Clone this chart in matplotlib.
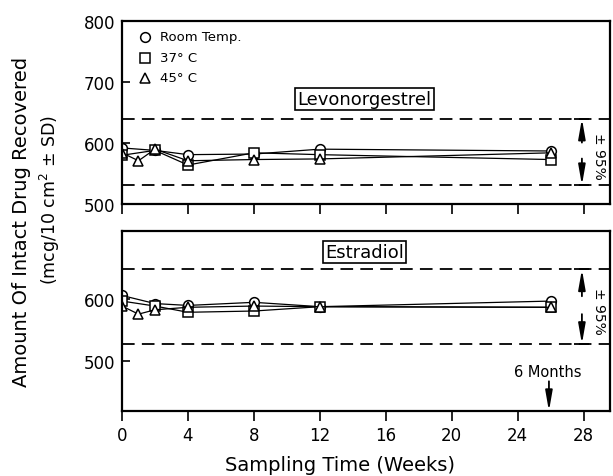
import matplotlib
matplotlib.use("Agg")
import matplotlib.pyplot as plt

plt.rcParams['font.family'] = ['DejaVu Sans']

weeks = [0, 2, 4, 8, 12, 26]
weeks45 = [0, 1, 2, 4, 8, 12, 26]

levo_rt = [592, 588, 581, 582, 590, 587]
levo_37 = [580, 588, 564, 584, 581, 573]
levo_45 = [584, 571, 590, 571, 573, 574, 584]
levo_band = [640, 531]

estr_rt = [606, 593, 590, 595, 588, 597]
estr_37 = [597, 589, 579, 581, 588, 587]
estr_45 = [589, 576, 583, 587, 589, 588, 587]
estr_band = [648, 528]

xticks = [0, 4, 8, 12, 16, 20, 24, 28]

fig = plt.figure(figsize=(6.13, 4.77), dpi=100)
ax1 = fig.add_axes([0.199, 0.570, 0.796, 0.384])
ax2 = fig.add_axes([0.199, 0.136, 0.796, 0.378])

mk = dict(color='black', lw=0.9, markerfacecolor='white', markeredgecolor='black',
          markersize=7, markeredgewidth=1.1)
arrow = dict(arrowstyle='-|>,head_length=0.8,head_width=0.14', color='black', lw=1.3,
             mutation_scale=15, shrinkA=0, shrinkB=0)

def panel(ax, rt, c37, c45, band, ylim, yticks, label, lab_y):
    ax.plot(weeks, rt, marker='o', **mk)
    ax.plot(weeks, c37, marker='s', **mk)
    ax.plot(weeks45, c45, marker='^', **mk)
    for b in band:
        ax.axhline(b, color='black', lw=1.3, ls=(0, (7, 4)))
        ax.plot([27.45, 28.35], [b, b], color='black', lw=1.3, solid_capstyle='butt')
    ax.set_xlim(0, 29.6)
    ax.set_ylim(*ylim)
    ax.set_xticks(xticks)
    ax.set_yticks(yticks)
    ax.tick_params(axis='y', direction='in', length=6, width=1.2, labelsize=12, pad=5)
    ax.tick_params(axis='x', direction='out', length=7, width=1.2, labelsize=12)
    for s in ax.spines.values():
        s.set_linewidth(1.6)
    ax.text(14.7, lab_y, label, ha='center', va='center', fontsize=13,
            bbox=dict(boxstyle='square,pad=0.12', fc='white', ec='black', lw=1.2))
    mid = (band[0] + band[1]) / 2
    span = band[0] - band[1]
    ax.annotate('', xy=(27.9, band[0]), xytext=(27.9, mid + span * 0.14), arrowprops=arrow)
    ax.annotate('', xy=(27.9, band[1]), xytext=(27.9, mid - span * 0.1), arrowprops=arrow)
    ax.text(28.95, mid - span * 0.05, '± 95%', rotation=-90, ha='center', va='center', fontsize=10)

panel(ax1, levo_rt, levo_37, levo_45, levo_band, (500, 800), [500, 600, 700, 800],
      'Levonorgestrel', 672)
panel(ax2, estr_rt, estr_37, estr_45, estr_band, (420, 710), [500, 600],
      'Estradiol', 676)
ax1.set_xticklabels([])

# legend
leg_items = [('o', 'Room Temp.', 774), ('s', '37° C', 740), ('^', '45° C', 707)]
for m, t, yv in leg_items:
    ax1.plot([1.4], [yv], marker=m, ls='none', markerfacecolor='white',
             markeredgecolor='black', markersize=7, markeredgewidth=1.1)
    ax1.text(2.3, yv, t, ha='left', va='center', fontsize=9.5)

# 6 months
ax2.text(25.8, 484, '6 Months', ha='center', va='center', fontsize=10.5)
ax2.annotate('', xy=(25.9, 420), xytext=(25.9, 468), arrowprops=arrow)

fig.text(0.555, 0.025, 'Sampling Time (Weeks)', ha='center', va='center', fontsize=14)
fig.text(0.035, 0.535, 'Amount Of Intact Drug Recovered', rotation=90, ha='center', va='center', fontsize=14)
fig.text(0.082, 0.58, '(mcg/10 cm$^2$ ± SD)', rotation=90, ha='center', va='center', fontsize=12.5)

fig.savefig('out.png', dpi=100)
